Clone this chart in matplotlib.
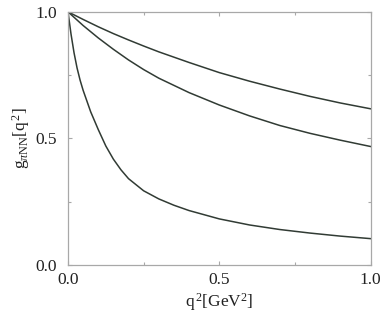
import numpy as np
import matplotlib
matplotlib.use('Agg')
import matplotlib.pyplot as plt

plt.rcParams['font.family'] = ['Liberation Serif', 'DejaVu Serif']
plt.rcParams['mathtext.fontset'] = 'custom'
plt.rcParams['mathtext.rm'] = 'Liberation Serif'
plt.rcParams['mathtext.it'] = 'Liberation Serif:italic'

# values
q2_top = [0.0, 0.05, 0.1, 0.15, 0.2, 0.25, 0.3, 0.4, 0.5, 0.6, 0.7, 0.8, 0.9, 1.0]
g_top = [1.0, 0.970, 0.941, 0.914, 0.889, 0.865, 0.842, 0.800, 0.760, 0.726,
         0.695, 0.666, 0.640, 0.617]

q2_mid = [0.0, 0.05, 0.1, 0.15, 0.2, 0.25, 0.3, 0.4, 0.5, 0.6, 0.7, 0.8, 0.9, 1.0]
g_mid = [1.0, 0.946, 0.897, 0.852, 0.810, 0.772, 0.738, 0.681, 0.632, 0.589,
         0.551, 0.520, 0.493, 0.468]

q2_low = [0.0, 0.01, 0.02, 0.03, 0.04, 0.05, 0.075, 0.1, 0.125, 0.15, 0.175,
          0.2, 0.25, 0.3, 0.35, 0.4, 0.5, 0.6, 0.7, 0.8, 0.9, 1.0]
g_low = [1.0, 0.912, 0.838, 0.778, 0.730, 0.690, 0.605, 0.535, 0.470, 0.418,
         0.376, 0.341, 0.293, 0.261, 0.236, 0.215, 0.182, 0.158, 0.140, 0.126,
         0.114, 0.104]

ticks = [0.0, 0.5, 1.0]
tick_labels = ['0.0', '0.5', '1.0']
minor_ticks = [0.25, 0.75]

line_col = '#313b34'
axis_col = '#a8a8a8'

fig = plt.figure(figsize=(3.82, 3.2), dpi=100)
ax = fig.add_axes([0.178, 0.172, 0.792, 0.791])

for x, g in ((q2_top, g_top), (q2_mid, g_mid), (q2_low, g_low)):
    ax.plot(x, g, color=line_col, lw=1.1, solid_joinstyle='round')

ax.set_xlim(0, 1)
ax.set_ylim(0, 1)
ax.set_xticks(ticks)
ax.set_xticklabels(tick_labels)
ax.set_yticks(ticks)
ax.set_yticklabels(tick_labels)
ax.set_xticks(minor_ticks, minor=True)
ax.set_yticks(minor_ticks, minor=True)

for s in ax.spines.values():
    s.set_color(axis_col)
    s.set_linewidth(0.9)

ax.tick_params(which='both', direction='in', top=True, right=True,
               color=axis_col, width=0.8, labelsize=12.5, labelcolor='#222222')
ax.tick_params(which='major', length=3, pad=8)
ax.tick_params(which='minor', length=2.5)
ax.tick_params(axis='x', pad=5)

ax.set_xlabel(r'q$^{\,2}$[GeV$^2$]', fontsize=12.5, color='#222222', labelpad=2)
ax.set_ylabel(r'g$_{\pi\mathrm{NN}}$[q$^{\,2}$]', fontsize=12.5, color='#222222', labelpad=2)

fig.savefig('out.png', dpi=100)
